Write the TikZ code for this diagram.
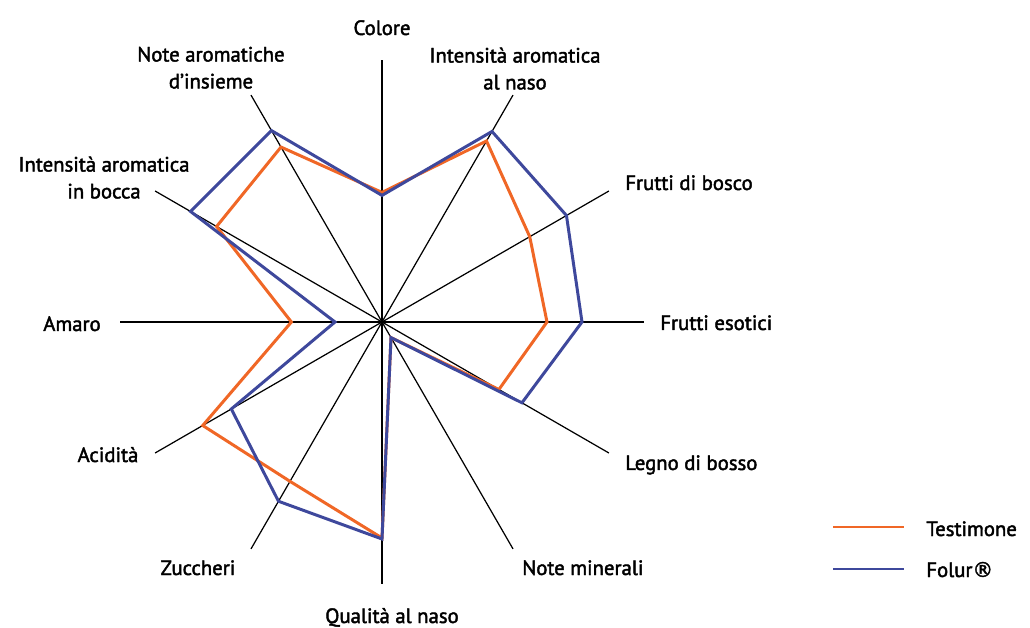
\documentclass[tikz,border=0pt]{standalone}
\usepackage{fontspec}
\setmainfont{PT Sans}[FakeBold=2]
\newfontfamily\simbolo{DejaVu Sans}[FakeBold=2]
\usepackage{tikz}

\definecolor{testimone}{RGB}{240,103,38}
\definecolor{folur}{RGB}{62,72,156}

\begin{document}
\begin{tikzpicture}[x=0.02cm,y=0.02cm,
	asse/.style={line width=0.7pt},
	serie/.style={line width=1.7pt},
	etich/.style={font=\fontsize{11.8}{15.3}\selectfont,align=center,inner sep=0pt}]
		\useasboundingbox (-382,-306) rectangle (648,322);

		% assi
		\foreach \a/\n in {90/colore,60/nasoint,30/bosco,0/esotici,-30/bosso,-60/minerali,-90/qualita,-120/zuccheri,-150/acidita,180/amaro,150/boccaint,120/insieme}
		\draw[asse] (0,0) -- (\a:262) coordinate (\n);

		\node[etich,anchor=base] (tcolore) at (0,287) {Colore};
		\node[etich,anchor=south] (tnasoint) at (133,232) {Intensità aromatica\\al naso};
		\node[etich,anchor=base west] (tbosco) at (243,132) {Frutti di bosco};
		\node[etich,anchor=base west] (tesotici) at (278,-8) {Frutti esotici};
		\node[etich,anchor=base west] (tbosso) at (243,-148) {Legno di bosso};
		\node[etich,anchor=base west] (tminerali) at (140,-253) {Note minerali};
		\node[etich,anchor=base] (tqualita) at (10,-301) {Qualità al naso};
		\node[etich,anchor=base] (tzuccheri) at (-184,-253) {Zuccheri};
		\node[etich,anchor=base] (tacidita) at (-274,-140) {Acidità};
		\node[etich,anchor=base] (tamaro) at (-310,-9) {Amaro};
		\node[etich,anchor=south] (tboccaint) at (-278,123) {Intensità aromatica\\in bocca};
		\node[etich,anchor=south] (tinsieme) at (-171,233) {Note aromatiche\\d’insieme};

		% Testimone
		\draw[serie,testimone] (90:129.6) -- (60:209) -- (30:170.6) -- (0:165) -- (-30:135) -- (-60:18)
		-- (-90:216) -- (-120:184) -- (-150:207) -- (180:90.6) -- (150:191) -- (120:202) -- cycle;

		% Folur
		\draw[serie,folur] (90:126.6) -- (60:220) -- (30:213) -- (0:200) -- (-30:161.6) -- (-60:18)
		-- (-90:217) -- (-120:207) -- (-150:174) -- (180:47) -- (150:221) -- (120:221) -- cycle;

		% legenda
		\coordinate (lt) at (451,-205);
		\coordinate (lf) at (451,-247);
		\draw[testimone,line width=1.3pt] (lt) -- ++(71,0) coordinate (lt2);
		\draw[folur,line width=1.3pt] (lf) -- ++(71,0) coordinate (lf2);
		\node[etich,anchor=base west] (ttestimone) at (544,-214) {Testimone};
		\node[etich,anchor=base west] (tfolur) at (544,-255) {Folur{\simbolo ®}};
\end{tikzpicture}
\end{document}
